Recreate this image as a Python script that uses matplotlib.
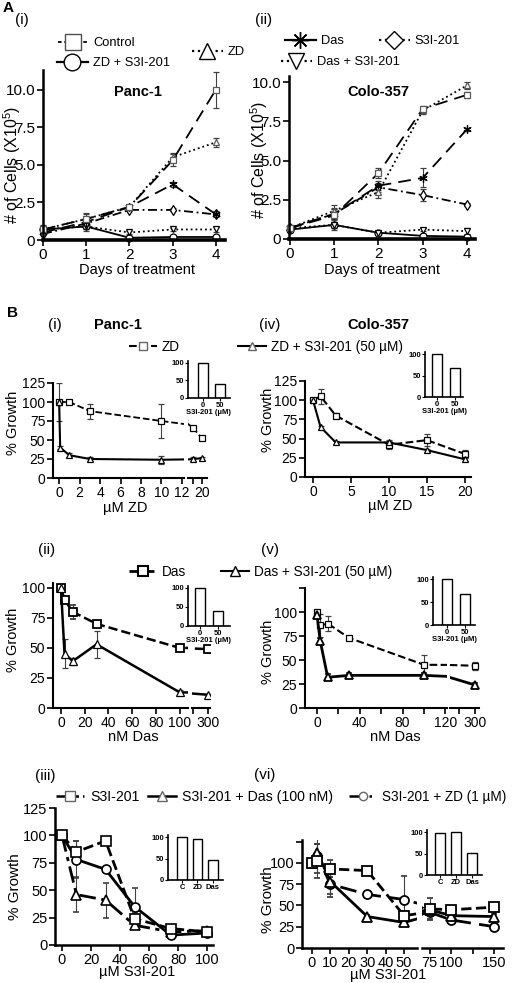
import matplotlib
matplotlib.use('Agg')
import matplotlib.pyplot as plt
from matplotlib.lines import Line2D

plt.rcParams['font.family'] = ['Liberation Sans', 'DejaVu Sans']
plt.rcParams['mathtext.fontset'] = 'custom'
plt.rcParams['mathtext.rm'] = 'Liberation Sans'
plt.rcParams['mathtext.it'] = 'Liberation Sans:italic'
plt.rcParams['mathtext.bf'] = 'Liberation Sans:bold'

# ---------------- data ----------------
days = [0, 1, 2, 3, 4]

# A(i) Panc-1, # cells (x10^5)
p_control = [0.7, 1.4, 2.2, 5.3, 10.0]
p_control_err = [0.2, 0.4, 0.1, 0.4, 1.2]
p_zd = [0.7, 1.4, 2.2, 5.5, 6.5]
p_zd_err = [0.1, 0.3, 0.1, 0.3, 0.3]
p_das = [0.5, 1.2, 2.2, 3.7, 1.7]
p_das_err = [0.1, 0.2, 0.1, 0.15, 0.2]
p_s3i = [0.4, 1.1, 2.0, 2.0, 1.7]
p_s3i_err = [0.1, 0.2, 0.1, 0.1, 0.1]
p_das_s3i = [0.7, 0.9, 0.5, 0.7, 0.7]
p_das_s3i_err = [0.3, 0.2, 0.1, 0.1, 0.15]
p_zd_s3i = [0.7, 0.9, 0.15, 0.2, 0.2]
p_zd_s3i_err = [0.1, 0.3, 0.1, 0.1, 0.1]

# A(ii) Colo-357
c_control = [0.7, 1.5, 4.2, 8.3, 9.2]
c_control_err = [0.2, 0.5, 0.3, 0.2, 0.2]
c_zd = [0.7, 1.8, 3.0, 8.2, 9.8]
c_zd_err = [0.1, 0.4, 0.4, 0.2, 0.2]
c_das = [0.7, 1.6, 3.4, 3.9, 7.0]
c_das_err = [0.1, 0.3, 0.3, 0.6, 0.1]
c_s3i = [0.7, 1.6, 3.3, 2.8, 2.2]
c_s3i_err = [0.1, 0.3, 0.3, 0.4, 0.1]
c_das_s3i = [0.7, 0.9, 0.4, 0.6, 0.5]
c_das_s3i_err = [0.1, 0.2, 0.1, 0.1, 0.2]
c_zd_s3i = [0.6, 0.9, 0.4, 0.2, 0.15]
c_zd_s3i_err = [0.1, 0.3, 0.1, 0.1, 0.1]

# B(i)/(iv) % growth vs uM ZD
zd_um = [0, 1, 3, 10, 15, 20]
zd_um_combo = [0, 0.1, 1, 3, 10, 15, 20]
panc_zd = [100, 100, 88, 75, 66, 52]
panc_zd_err = [25, 3, 10, 22, 2, 2]
panc_zd_s3i = [100, 40, 30, 25, 24, 25, 26]
panc_zd_s3i_err = [0, 2, 3, 2, 5, 2, 2]
colo_zd = [100, 105, 80, 42, 48, 30]
colo_zd_err = [2, 10, 3, 6, 8, 5]
colo_zd_s3i = [100, 65, 45, 45, 35, 23]
colo_zd_s3i_err = [1, 2, 2, 2, 2, 2]

# B(ii)/(v) % growth vs nM Das
das_nm = [0, 3, 10, 30, 100, 300]
panc_das = [100, 90, 80, 70, 50, 49]
panc_das_err = [1, 2, 6, 2, 1, 3]
panc_das_s3i = [100, 45, 39, 53, 13, 11]
panc_das_s3i_err = [1, 12, 3, 11, 2, 1]
colo_das = [100, 86, 88, 73, 45, 44]
colo_das_err = [2, 12, 8, 2, 10, 4]
colo_das_s3i = [97, 70, 32, 34, 34, 24]
colo_das_s3i_err = [2, 3, 3, 2, 2, 2]

# B(iii)/(vi) % growth vs uM S3I-201
s3i_um = [0, 10, 30, 50, 75, 100]
panc_s3i = [100, 85, 95, 24, 15, 12]
panc_s3i_err = [2, 10, 2, 5, 2, 2]
panc_s3i_das = [100, 46, 41, 18, 12, 13]
panc_s3i_das_err = [2, 16, 16, 2, 2, 2]
panc_s3i_zd = [100, 78, 69, 35, 9, 11]
panc_s3i_zd_err = [2, 17, 2, 17, 2, 2]
s3i_um_colo = [0, 3, 10, 30, 50, 75, 100, 150]
colo_s3i = [100, 102, 93, 91, 38, 46, 45, 48]
colo_s3i_err = [3, 20, 10, 2, 5, 13, 2, 3]
colo_s3i_das = [100, 112, 78, 37, 30, 45, 38, 37]
colo_s3i_das_err = [3, 10, 15, 2, 3, 5, 2, 3]
colo_s3i_zd = [100, 108, 75, 63, 57, 42, 33, 25]
colo_s3i_zd_err = [3, 20, 15, 2, 28, 8, 2, 3]

# insets
inset_doses = ['0', '50']
panc_zd_inset = [100, 40]
colo_zd_inset = [100, 68]
panc_das_inset = [100, 40]
colo_das_inset = [100, 68]
inset_groups = ['C', 'ZD', 'Das']
panc_s3i_inset = [100, 95, 47]
colo_s3i_inset = [98, 100, 52]

# ---------------- helpers ----------------
W, H = 517, 983
fig = plt.figure(figsize=(W / 100, H / 100), dpi=100)


def add_ax(x0, y0, x1, y1):
    return fig.add_axes([x0 / W, 1 - y1 / H, (x1 - x0) / W, (y1 - y0) / H])


def ftext(x, y, s, **kw):
    kw.setdefault('ha', 'center')
    kw.setdefault('va', 'center')
    fig.text(x / W, 1 - y / H, s, **kw)


def style(ax, lw=1.5, blw=None, fs=10):
    ax.spines['top'].set_visible(False)
    ax.spines['right'].set_visible(False)
    ax.spines['left'].set_linewidth(lw)
    ax.spines['bottom'].set_linewidth(blw or lw)
    ax.tick_params(direction='out', width=1.2, length=4, pad=1.5, labelsize=fs)
    ax.patch.set_alpha(0)


def right_part(ax):
    ax.spines['left'].set_visible(False)
    ax.set_yticks([])


def series(ax, x, y, err, marker, ls, ms=5, lw=1.3, mew=0.9, mec='k', clip=True):
    ax.errorbar(x, y, yerr=err, marker=marker, ls=ls, color='k', mfc='white',
                mec=mec, ms=ms, lw=lw, mew=mew, capsize=2, elinewidth=0.8,
                ecolor='0.25', clip_on=clip)


def leg(mx, my, label, fs=9.5, hl=2.4, **st):
    h = Line2D([], [], color='k', markerfacecolor='white', **st)
    left = mx - hl * fs * 100 / 72 / 2
    fig.legend(handles=[h], labels=[label], loc='center left',
               bbox_to_anchor=(left / W, 1 - my / H), frameon=False,
               fontsize=fs, handlelength=hl, handletextpad=0.4,
               borderpad=0, borderaxespad=0)


def inset(x0, y0, x1, y1, labels, vals, xlim, xlabel=None):
    ax = add_ax(x0, y0, x1, y1)
    ax.bar(range(len(vals)), vals, width=0.6, color='white', edgecolor='k', lw=1.0)
    ax.set_xlim(*xlim)
    ax.set_ylim(0, 105)
    ax.set_yticks([0, 50, 100])
    ax.set_xticks(range(len(vals)))
    ax.set_xticklabels(labels)
    for s in ['top', 'right']:
        ax.spines[s].set_visible(False)
    ax.spines['left'].set_linewidth(1.2)
    ax.spines['bottom'].set_linewidth(1.2)
    ax.tick_params(direction='out', width=0.8, length=2, pad=1, labelsize=5.5)
    for t in ax.get_xticklabels() + ax.get_yticklabels():
        t.set_fontweight('bold')
    if xlabel:
        ax.set_xlabel(xlabel, fontsize=5.5, fontweight='bold', labelpad=0)
    ax.patch.set_alpha(0)
    return ax


# ---------------- A panels ----------------
for (x0, y0, x1, y1, xl, yl, name, data, tpos) in [
    (43, 70, 225, 240, (0, 4.21), 11.3, 'Panc-1',
     [p_control, p_control_err, p_zd, p_zd_err, p_das, p_das_err, p_s3i, p_s3i_err,
      p_das_s3i, p_das_s3i_err, p_zd_s3i, p_zd_s3i_err], (138, 92)),
    (289, 76, 475, 239, (-0.02, 4.18), 10.4, 'Colo-357',
     [c_control, c_control_err, c_zd, c_zd_err, c_das, c_das_err, c_s3i, c_s3i_err,
      c_das_s3i, c_das_s3i_err, c_zd_s3i, c_zd_s3i_err], (378, 92)),
]:
    ax = add_ax(x0, y0, x1, y1)
    style(ax, lw=1.8, blw=2.6, fs=11)
    series(ax, days, data[10], data[11], 'o', '-', ms=5, clip=False)
    series(ax, days, data[8], data[9], 'v', ':', ms=5, clip=False)
    series(ax, days, data[6], data[7], 'd', (0, (5, 2, 1, 2)), ms=5, clip=False)
    series(ax, days, data[4], data[5], (6, 2, 0), (0, (7, 4)), ms=6, clip=False)
    series(ax, days, data[2], data[3], '^', ':', ms=5, mec='0.35', clip=False)
    series(ax, days, data[0], data[1], 's', (0, (7, 4)), ms=5, mec='0.35', clip=False)
    ax.set_xlim(*xl)
    ax.set_ylim(0, yl)
    ax.set_xticks(days)
    ax.set_yticks([0, 2.5, 5.0, 7.5, 10.0])
    ax.set_yticklabels(['0', '2.5', '5.0', '7.5', '10.0'])
    ftext(tpos[0], tpos[1], name, fontsize=10.5, fontweight='bold')

ftext(137, 270, 'Days of treatment', fontsize=10.5)
ftext(382, 270, 'Days of treatment', fontsize=10.5)
ftext(12, 165, '# of Cells (X10$^5$)', fontsize=11.5, rotation=90)
ftext(259, 160, '# of Cells (X10$^5$)', fontsize=11.5, rotation=90)

ftext(3, 8, 'A', fontsize=11, fontweight='bold', ha='left')
ftext(22, 20, '(i)', fontsize=11)
ftext(264, 20, '(ii)', fontsize=11)

leg(73, 43, 'Control', fs=9.3, marker='s', ms=11, ls=(0, (2, 1.5)), mec='0.3', lw=1.3)
leg(72, 63, 'ZD + S3I-201', fs=9.3, marker='o', ms=12, ls='-', lw=1.6)
leg(207, 52, 'ZD', fs=9.3, marker='^', ms=12, ls=':', lw=1.6)
leg(300, 41, 'Das', fs=9.3, marker=(8, 2, 0), ms=12, ls='-', lw=1.6, mew=1.0)
leg(394, 41, 'S3I-201', fs=9.3, marker='D', ms=9, ls=':', lw=1.6)
leg(296, 62, 'Das + S3I-201', fs=9.3, marker='v', ms=12, ls=':', lw=1.6)

# ---------------- B labels ----------------
ftext(12, 313, 'B', fontsize=11, fontweight='bold')
ftext(55, 325, '(i)', fontsize=11)
ftext(118, 325, 'Panc-1', fontsize=10.5, fontweight='bold')
ftext(270, 325, '(iv)', fontsize=11)
ftext(378, 325, 'Colo-357', fontsize=10.5, fontweight='bold')
ftext(47, 550, '(ii)', fontsize=11)
ftext(270, 550, '(v)', fontsize=11)
ftext(45, 776, '(iii)', fontsize=11)
ftext(265, 775, '(vi)', fontsize=11)

leg(143, 347, 'ZD', fs=9.8, hl=2.0, marker='s', ms=6, ls='--', lw=1.5, mec='0.4')
leg(252, 347, 'ZD + S3I-201 (50 \u00b5M)', fs=9.8, hl=2.0, marker='^', ms=6, ls='-', lw=1.5, mec='0.4')
leg(143, 572, 'Das', fs=9.8, hl=2.0, marker='s', ms=6.5, ls='--', lw=2.0, mew=1.5)
leg(235, 572, 'Das + S3I-201 (50 \u00b5M)', fs=9.8, hl=2.0, marker='^', ms=6.5, ls='-', lw=1.5)
leg(70, 797, 'S3I-201', fs=10.2, hl=2.0, marker='s', ms=7, ls='--', lw=1.8, mec='0.4')
leg(162, 797, 'S3I-201 + Das (100 nM)', fs=10.2, hl=2.0, marker='^', ms=7, ls='-', lw=1.8, mec='0.4')
leg(363, 797, 'S3I-201 + ZD (1 \u00b5M)', fs=9.8, hl=2.0, marker='o', ms=6, ls=(0, (4, 4, 1, 4)), lw=1.8, mec='0.4')

# ---------------- B(i) Panc-1 vs ZD ----------------
axl = add_ax(53, 383, 184, 478)
axr = add_ax(188, 383, 207, 478)
for ax in (axl, axr):
    style(ax, fs=10)
    series(ax, zd_um, panc_zd, panc_zd_err, 's', '--', ms=5, lw=1.3)
    series(ax, zd_um_combo, panc_zd_s3i, panc_zd_s3i_err, '^', '-', ms=5, lw=1.5)
    ax.set_ylim(0, 125)
axl.set_xlim(-0.6, 12.2)
axl.set_xticks([0, 2, 4, 6, 8, 10, 12])
axl.set_yticks([0, 25, 50, 75, 100, 125])
axr.set_xlim(12.2, 22.8)
axr.set_xticks([15, 20])
axr.set_xticklabels(['', '20'])
right_part(axr)
ftext(125, 508, '\u00b5M ZD', fontsize=10.5)
ftext(13, 423, '% Growth', fontsize=10.5, rotation=90)
inset(188, 361, 230, 398, inset_doses, panc_zd_inset, (-0.88, 1.59), 'S3I-201 (\u00b5M)')

# ---------------- B(iv) Colo-357 vs ZD ----------------
ax = add_ax(305, 381, 471, 477)
style(ax, fs=10)
series(ax, zd_um, colo_zd, colo_zd_err, 's', '--', ms=5, lw=1.5, clip=False)
series(ax, zd_um, colo_zd_s3i, colo_zd_s3i_err, '^', '-', ms=5, lw=1.5, clip=False)
ax.set_xlim(-1.05, 20.8)
ax.set_ylim(0, 125)
ax.set_xticks([0, 5, 10, 15, 20])
ax.set_yticks([0, 25, 50, 75, 100, 125])
ftext(390, 506, '\u00b5M ZD', fontsize=10.5)
ftext(268, 420, '% Growth', fontsize=10.5, rotation=90)
inset(425, 352, 463, 397, inset_doses, colo_zd_inset, (-0.67, 1.44), 'S3I-201 (\u00b5M)')

# ---------------- B(ii) Panc-1 vs Das ----------------
axl = add_ax(53, 583, 188, 708)
axr = add_ax(192, 583, 210, 708)
for ax in (axl, axr):
    style(ax, fs=10)
    series(ax, das_nm, panc_das, panc_das_err, 's', '--', ms=5.5, lw=1.8, mew=1.3)
    series(ax, das_nm, panc_das_s3i, panc_das_s3i_err, '^', '-', ms=5.5, lw=1.8)
    ax.set_ylim(0, 104)
axl.set_xlim(-6.7, 107)
axl.set_xticks([0, 20, 40, 60, 80, 100])
axl.set_yticks([0, 25, 50, 75, 100])
axr.set_xlim(193, 313)
axr.set_xticks([200, 300])
axr.set_xticklabels(['', '300'])
right_part(axr)
ftext(133, 737, 'nM Das', fontsize=10.5)
ftext(13, 640, '% Growth', fontsize=10.5, rotation=90)
inset(188, 586, 230, 626, inset_doses, panc_das_inset, (-0.67, 1.67), 'S3I-201 (\u00b5M)')

# ---------------- B(v) Colo-357 vs Das ----------------
axl = add_ax(305, 588, 447, 708)
axr = add_ax(450, 588, 479, 708)
for ax in (axl, axr):
    style(ax, fs=10)
    series(ax, das_nm, colo_das, colo_das_err, 's', '--', ms=5, lw=1.5)
    series(ax, das_nm, colo_das_s3i, colo_das_s3i_err, '^', '-', ms=5.5, lw=2.0, mew=1.3)
    ax.set_ylim(0, 125)
axl.set_xlim(-11.2, 121.5)
axl.set_xticks([0, 40, 80, 120])
axl.set_xticks([20, 60, 100], minor=True)
axl.tick_params(which='minor', direction='out', width=1.2, length=4)
axl.set_yticks([0, 25, 50, 75, 100, 125])
axl.set_yticklabels(['0', '25', '50', '75', '100', ''])
axr.set_xlim(144, 325)
axr.set_xticks([200, 300])
axr.set_xticklabels(['', '300'])
right_part(axr)
ftext(395, 737, 'nM Das', fontsize=10.5)
ftext(268, 652, '% Growth', fontsize=10.5, rotation=90)
inset(433, 577, 475, 625, inset_doses, colo_das_inset, (-0.78, 1.56), 'S3I-201 (\u00b5M)')

# ---------------- B(iii) Panc-1 vs S3I-201 ----------------
ax = add_ax(55, 808, 213, 945)
style(ax, lw=1.8, fs=10.5)
series(ax, s3i_um, panc_s3i_das, panc_s3i_das_err, '^', (0, (6, 2, 1.5, 2)), ms=7, lw=2.0, mew=1.2, clip=False)
series(ax, s3i_um, panc_s3i_zd, panc_s3i_zd_err, 'o', '-', ms=6.5, lw=2.0, mew=1.2, clip=False)
series(ax, s3i_um, panc_s3i, panc_s3i_err, 's', '--', ms=6.5, lw=2.0, mew=1.2, clip=False)
ax.set_xlim(-4.8, 104)
ax.set_ylim(0, 125)
ax.set_xticks([0, 20, 40, 60, 80, 100])
ax.set_yticks([0, 25, 50, 75, 100, 125])
ftext(137, 972, '\u00b5M S3I-201', fontsize=10.5)
ftext(15, 887, '% Growth', fontsize=11, rotation=90)
inset(168, 835, 223, 880, inset_groups, panc_s3i_inset, (-0.9, 2.65))

# ---------------- B(vi) Colo-357 vs S3I-201 ----------------
axl = add_ax(302, 840, 417, 948)
axr = add_ax(422, 840, 503, 948)
for ax in (axl, axr):
    style(ax, lw=1.8, fs=10.5)
    series(ax, s3i_um_colo, colo_s3i_zd, colo_s3i_zd_err, 'o', (0, (6, 3)), ms=6.5, lw=2.0, mew=1.3)
    series(ax, s3i_um_colo, colo_s3i_das, colo_s3i_das_err, '^', '-', ms=6.5, lw=2.0, mew=1.3)
    series(ax, s3i_um_colo, colo_s3i, colo_s3i_err, 's', '--', ms=6.5, lw=2.0, mew=1.3)
    ax.set_ylim(0, 127)
axl.set_xlim(-5.4, 57)
axl.set_xticks([0, 10, 20, 30, 40, 50])
axl.set_yticks([0, 25, 50, 75, 100, 125])
axl.set_yticklabels(['0', '25', '50', '75', '100', ''])
axr.set_xlim(66, 160)
axr.set_xticks([75, 100, 125, 150])
axr.set_xticklabels(['75', '100', '', '150'])
right_part(axr)
ftext(388, 975, '\u00b5M S3I-201', fontsize=10.5)
ftext(268, 900, '% Growth', fontsize=11, rotation=90)
inset(427, 830, 482, 875, inset_groups, colo_s3i_inset, (-0.8, 2.6))

fig.savefig('out.png', dpi=100)
